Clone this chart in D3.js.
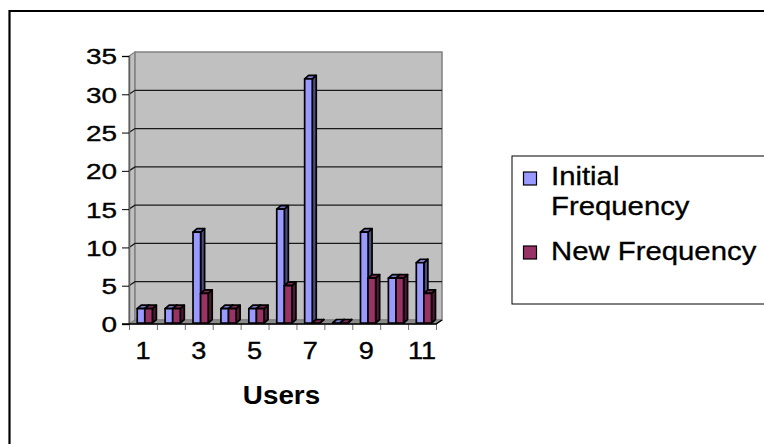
<!DOCTYPE html>
<html>
<head>
<meta charset="utf-8">
<script src="https://cdn.jsdelivr.net/npm/d3@7"></script>
<style>
  html, body { margin: 0; padding: 0; background: #fff; overflow: hidden; }
  svg { display: block; }
  text { font-family: Arial, "Liberation Sans", Helvetica, sans-serif; fill: #000; }
</style>
</head>
<body>
<svg id="chart" width="764" height="444"></svg>
<script>
// Users on the category axis, two frequency series per user
const categories = ["1", "2", "3", "4", "5", "6", "7", "8", "9", "10", "11"];
const initialFrequency = [2, 2, 12, 2, 2, 15, 32, 0, 12, 6, 8];
const newFrequency = [2, 2, 4, 2, 2, 5, 0, 0, 6, 6, 4];
const seriesNames = ["Initial Frequency", "New Frequency"];
const yTicks = [0, 5, 10, 15, 20, 25, 30, 35];

const svg = d3.select("#chart");

// plot frame (front plane) and the 3-D depth offset of the back wall
const plotLeft = 129, plotRight = 436, plotBottom = 324, plotTop = 56;
const depthX = 6, depthY = -4;
const barDX = 4, barDY = -3.5;

const y = d3.scaleLinear().domain([0, 35]).range([plotBottom, plotTop]);
const x = d3.scaleBand().domain(categories).range([plotLeft, plotRight]);
const xs = d3.scaleBand().domain(seriesNames).range([8.2, 23.4]);
const xEdge = d3.scaleLinear().domain([0, categories.length]).range([plotLeft, plotRight]);

const colors = {
  "Initial Frequency": { front: "#9999FF", top: "#7a7acc", side: "#4d4d80" },
  "New Frequency": { front: "#993366", top: "#7a2952", side: "#4d1a33" }
};

// outer chart-area border (continues past the right and bottom edges)
svg.append("path")
  .attr("d", "M9.5,450 V11 H770")
  .attr("fill", "none").attr("stroke", "#000").attr("stroke-width", 2.2);

// left side wall
svg.append("path")
  .attr("d", `M${plotLeft},${y(35)} L${plotLeft + depthX},${y(35) + depthY} L${plotLeft + depthX},${y(0) + depthY} L${plotLeft},${y(0)} Z`)
  .attr("fill", "#c0c0c0").attr("stroke", "#808080").attr("stroke-width", 1.2);

// back wall
svg.append("rect")
  .attr("x", plotLeft + depthX).attr("y", y(35) + depthY)
  .attr("width", plotRight - plotLeft).attr("height", y(0) - y(35))
  .attr("fill", "#c0c0c0").attr("stroke", "#808080").attr("stroke-width", 1.5);

// floor
svg.append("path")
  .attr("d", `M${plotLeft},${y(0)} L${plotLeft + depthX},${y(0) + depthY} L${plotRight + depthX},${y(0) + depthY} L${plotRight},${y(0)} Z`)
  .attr("fill", "#8c8c8c").attr("stroke", "#808080").attr("stroke-width", 1);

// gridlines across the back wall and the side wall
const grid = svg.append("g");
yTicks.filter(t => t > 0 && t < 35).forEach(t => {
  grid.append("path")
    .attr("d", `M${plotLeft},${y(t)} L${plotLeft + depthX},${y(t) + depthY} H${plotRight + depthX}`)
    .attr("fill", "none").attr("stroke", "#1a1a1a").attr("stroke-width", 1.3);
});

// value axis
const sxY = 1.27;
const yAxis = svg.append("g")
  .attr("transform", `translate(${plotLeft},0)`)
  .call(d3.axisLeft(y).tickValues(yTicks).tickSize(7).tickPadding(12));
yAxis.select(".domain").attr("stroke", "#606060").attr("stroke-width", 1.5);
yAxis.selectAll(".tick line").attr("stroke", "#000");
yAxis.selectAll(".tick text")
  .attr("font-size", 22).attr("font-family", "Arial, 'Liberation Sans', sans-serif")
  .attr("fill", "#000").attr("stroke", "#000").attr("stroke-width", 0.35)
  .attr("transform", `scale(${sxY},1)`)
  .attr("x", -12 / sxY)
  .attr("dy", "0.36em");

// category boundary ticks
const xTickAxis = svg.append("g")
  .attr("transform", `translate(0,${plotBottom})`)
  .call(d3.axisBottom(xEdge).ticks(categories.length).tickSize(6).tickFormat(""));
xTickAxis.select(".domain").remove();
xTickAxis.selectAll(".tick line").attr("stroke", "#707070");

// front floor edge
svg.append("path")
  .attr("d", `M${plotLeft - 7},${plotBottom} H${plotRight} L${plotRight + depthX},${plotBottom + depthY}`)
  .attr("fill", "none").attr("stroke", "#000").attr("stroke-width", 1.5);

// category labels (every other user)
const sxX = 1.18;
const xAxis = svg.append("g")
  .attr("transform", `translate(0,${plotBottom})`)
  .call(d3.axisBottom(x).tickSize(0).tickPadding(0)
    .tickFormat((d, i) => i % 2 === 0 ? d : ""));
xAxis.select(".domain").remove();
xAxis.selectAll(".tick text")
  .attr("font-size", 23).attr("font-family", "Arial, 'Liberation Sans', sans-serif")
  .attr("fill", "#000").attr("stroke", "#000").attr("stroke-width", 0.35)
  .attr("dy", null)
  .attr("y", 35)
  .attr("transform", `scale(${sxX},1)`);

// columns
const rows = categories.map((c, i) => ({ cat: c, values: [initialFrequency[i], newFrequency[i]] }));
const base = y(0) - 1;
const bars = svg.append("g");
rows.forEach(r => {
  seriesNames.forEach((s, k) => {
    const v = r.values[k];
    const x0 = x(r.cat) + xs(s);
    const w = xs.bandwidth();
    const yt = Math.min(y(v), base);
    const col = colors[s];
    const g = bars.append("g")
      .attr("stroke", "#000").attr("stroke-width", 1.7).attr("stroke-linejoin", "round");
    // side face
    g.append("path")
      .attr("d", `M${x0 + w},${yt} L${x0 + w + barDX},${yt + barDY} L${x0 + w + barDX},${base + barDY} L${x0 + w},${base} Z`)
      .attr("fill", col.side);
    // top face
    g.append("path")
      .attr("d", `M${x0},${yt} L${x0 + barDX},${yt + barDY} L${x0 + w + barDX},${yt + barDY} L${x0 + w},${yt} Z`)
      .attr("fill", col.top);
    // front face
    if (base - yt > 0) {
      g.append("rect")
        .attr("x", x0).attr("y", yt).attr("width", w).attr("height", base - yt)
        .attr("fill", col.front);
    }
  });
});

// axis title
const title = svg.append("g").attr("transform", "translate(281.5,404) scale(1.07,1)");
title.append("text")
  .attr("text-anchor", "middle").attr("font-size", 26).attr("font-weight", "bold")
  .text("Users");

// legend (box runs off the right edge)
const legend = svg.append("g");
legend.append("rect")
  .attr("x", 512).attr("y", 156).attr("width", 320).attr("height", 148)
  .attr("fill", "#fff").attr("stroke", "#000").attr("stroke-width", 1);

const legendItems = [
  { name: seriesNames[0], lines: ["Initial", "Frequency"], sy: 172, ty: 185 },
  { name: seriesNames[1], lines: ["New Frequency"], sy: 246, ty: 260 }
];
legendItems.forEach(item => {
  legend.append("rect")
    .attr("x", 523.5).attr("y", item.sy).attr("width", 13).attr("height", 13)
    .attr("fill", colors[item.name].front).attr("stroke", "#000").attr("stroke-width", 1.2);
  item.lines.forEach((ln, j) => {
    legend.append("g")
      .attr("transform", `translate(551,${item.ty + j * 30}) scale(1.15,1)`)
      .append("text").attr("font-size", 25.5)
      .attr("stroke", "#000").attr("stroke-width", 0.3)
      .text(ln);
  });
});
</script>
</body>
</html>
